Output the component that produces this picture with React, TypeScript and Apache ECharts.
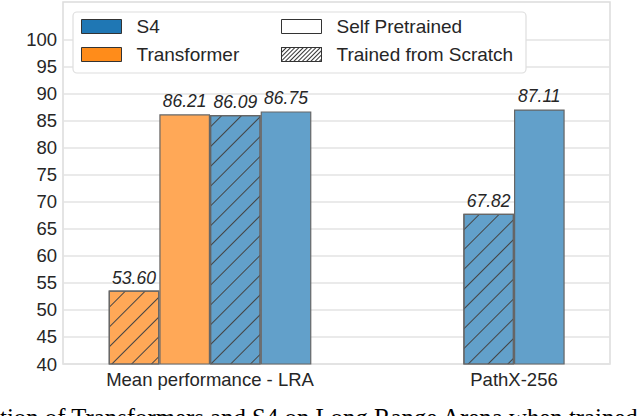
import React, { useEffect, useRef } from "react";
import * as echarts from "echarts";

// ---- data ----
const categories = ["Mean performance - LRA", "PathX-256"];
const transformerScratch: (number | null)[] = [53.6, null];
const transformerPretrained: (number | null)[] = [86.21, null];
const s4Scratch: (number | null)[] = [86.09, 67.82];
const s4Pretrained: (number | null)[] = [86.75, 87.11];
const yTicks = [40, 45, 50, 55, 60, 65, 70, 75, 80, 85, 90, 95, 100];
const legendModels = ["S4", "Transformer"];
const legendTraining = ["Self Pretrained", "Trained from Scratch"];
const caption = "ation of Transformers and S4 on Long Range Arena when trained";

// ---- styles ----
const ORANGE_BAR = "#FFA857";
const BLUE_BAR = "#62A0CA";
const ORANGE = "#FF8C1A";
const BLUE = "#1F77B4";
const EDGE = "#666666";
const TEXT = "#262626";
const FONT = "Liberation Sans";

const GRID = { left: 63, right: 30, top: 2, bottom: 52 };
const X_MIN = -0.4836;
const X_MAX = 1.3158;
const BAR_UNIT = 1 / 6;

const barHatch = {
  symbol: "rect",
  symbolSize: 1,
  color: "#444444",
  dashArrayX: [1, 0],
  dashArrayY: [1, 13],
  rotation: -Math.PI / 4,
};

const legendHatch = {
  symbol: "rect",
  symbolSize: 1,
  color: "#333333",
  dashArrayX: [1, 0],
  dashArrayY: [1, 2],
  rotation: -Math.PI / 4,
};

const seriesDefs = [
  { key: "ts", values: transformerScratch, color: ORANGE_BAR, hatch: true },
  { key: "tp", values: transformerPretrained, color: ORANGE_BAR, hatch: false },
  { key: "ss", values: s4Scratch, color: BLUE_BAR, hatch: true },
  { key: "sp", values: s4Pretrained, color: BLUE_BAR, hatch: false },
];

function buildSeriesData() {
  // position bars side by side around each category tick
  const out: any[][] = seriesDefs.map(() => []);
  categories.forEach((_, g) => {
    const present = seriesDefs
      .map((s, i) => ({ i, v: s.values[g] }))
      .filter((o) => o.v !== null && o.v !== undefined);
    const n = present.length;
    present.forEach((o, k) => {
      const x = g + (k - (n - 1) / 2) * BAR_UNIT;
      out[o.i].push([x, o.v]);
    });
  });
  return out;
}

export default function App() {
  const ref = useRef<HTMLDivElement>(null);

  useEffect(() => {
    if (!ref.current) return;
    const chart = echarts.init(ref.current, null, { renderer: "svg" });
    const data = buildSeriesData();
    const gridW = 640 - GRID.left - GRID.right;
    const barPx = (gridW / (X_MAX - X_MIN)) * BAR_UNIT;

    const realSeries = seriesDefs.map((s, i) => ({
      type: "bar",
      name: "_" + s.key,
      data: data[i],
      barWidth: barPx,
      barGap: "-100%",
      itemStyle: {
        color: s.color,
        borderColor: EDGE,
        borderWidth: 1.2,
        decal: s.hatch ? barHatch : "none",
      },
      label: {
        show: true,
        position: "top",
        distance: 4,
        fontFamily: FONT,
        fontStyle: "italic",
        fontSize: 17.5,
        color: TEXT,
        formatter: (p: any) => Number(p.value[1]).toFixed(2),
      },
    }));

    const legendSeries = [
      { name: legendModels[0], color: BLUE, decal: "none" },
      { name: legendModels[1], color: ORANGE, decal: "none" },
      { name: legendTraining[0], color: "#ffffff", decal: "none" },
      { name: legendTraining[1], color: "#ffffff", decal: legendHatch },
    ].map((d) => ({
      type: "bar",
      name: d.name,
      data: [],
      barWidth: barPx,
      barGap: "-100%",
      itemStyle: { color: d.color, borderColor: "#333", borderWidth: 1, decal: d.decal },
    }));

    const legendCommon = {
      orient: "vertical",
      icon: "rect",
      itemWidth: 40,
      itemHeight: 14,
      itemGap: 9,
      padding: 0,
      z: 6,
      selectedMode: false,
      itemStyle: { borderColor: "#333", borderWidth: 1 },
      textStyle: {
        fontFamily: FONT,
        fontSize: 19,
        color: TEXT,
        padding: [0, 0, 0, 10],
      },
    };

    chart.setOption({
      animation: false,
      grid: {
        ...GRID,
        show: true,
        borderColor: "#dcdcdc",
        borderWidth: 1.5,
        backgroundColor: "#ffffff",
      },
      xAxis: {
        type: "value",
        min: X_MIN,
        max: X_MAX,
        axisLine: { show: false },
        axisTick: { show: false },
        splitLine: { show: false },
        axisLabel: {
          customValues: [0, 1],
          formatter: (v: number) => categories[Math.round(v)] ?? "",
          fontFamily: FONT,
          fontSize: 18.5,
          color: TEXT,
          margin: 6,
        },
      },
      yAxis: {
        type: "value",
        min: 40,
        max: 107,
        axisLine: { show: false },
        axisTick: { show: false, customValues: yTicks },
        splitLine: { show: true, lineStyle: { color: "#e3e3e3", width: 1.5 } },
        axisLabel: {
          customValues: yTicks,
          fontFamily: FONT,
          fontSize: 18.5,
          color: TEXT,
          margin: 6,
        },
      },
      legend: [
        { ...legendCommon, data: legendModels, left: 81, top: 17 },
        { ...legendCommon, data: legendTraining, left: 281, top: 17 },
      ],
      graphic: [
        {
          type: "rect",
          z: 5,
          shape: { x: 73, y: 12, width: 453, height: 61, r: 4 },
          style: { fill: "#ffffff", stroke: "#dedede", lineWidth: 1.2 },
        },
        {
          type: "text",
          z: 5,
          x: -11,
          y: 417,
          style: {
            text: caption,
            fontFamily: "Liberation Serif",
            fontSize: 24.8,
            fill: "#000000",
            verticalAlign: "middle",
            align: "left",
          },
        },
      ],
      series: [...realSeries, ...legendSeries],
    });

    return () => chart.dispose();
  }, []);

  return <div ref={ref} style={{ width: 640, height: 416, position: "absolute", left: 0, top: 0 }} />;
}
